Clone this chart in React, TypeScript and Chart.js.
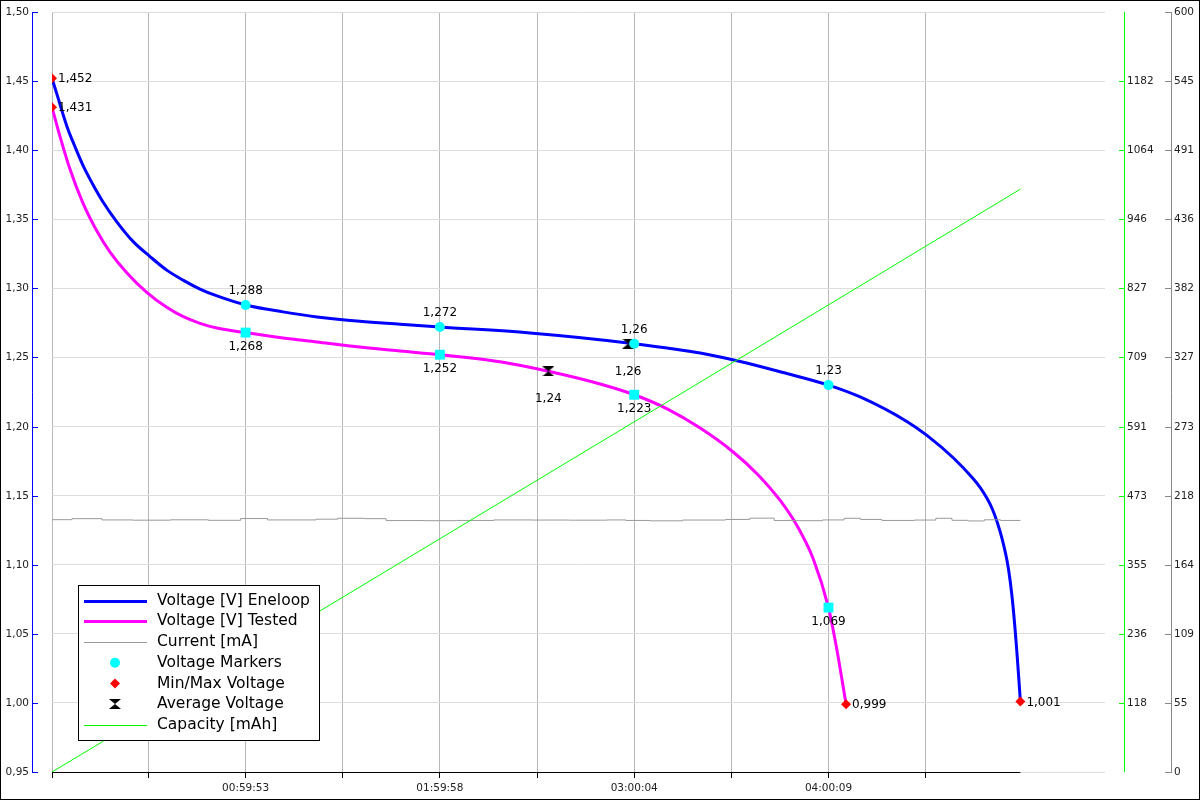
import React, { useEffect, useRef } from 'react';
import { Chart, registerables } from 'chart.js';

Chart.register(...registerables);

// ---------- data ----------
const X_MAX = 19540;
const X_TICKS = [0, 1797, 3593, 5396, 7198, 9001, 10804, 12607, 14409, 16212];
const X_TICK_LABELS = ['', '', '00:59:53', '', '01:59:58', '', '03:00:04', '', '04:00:09', ''];

const V_TICKS = [0.95, 1.0, 1.05, 1.1, 1.15, 1.2, 1.25, 1.3, 1.35, 1.4, 1.45, 1.5];
const V_TICK_LABELS = ['0,95', '1,00', '1,05', '1,10', '1,15', '1,20', '1,25', '1,30', '1,35', '1,40', '1,45', '1,50'];

const CAP_MAX = 1300;
const CAP_TICKS = [118.18, 236.36, 354.55, 472.73, 590.91, 709.09, 827.27, 945.45, 1063.64, 1181.82];
const CAP_TICK_LABELS = ['118', '236', '355', '473', '591', '709', '827', '946', '1064', '1182'];

const CUR_MAX = 600;
const CUR_TICKS = [0, 54.55, 109.09, 163.64, 218.18, 272.73, 327.27, 381.82, 436.36, 490.91, 545.45, 600];
const CUR_TICK_LABELS = ['0', '55', '109', '164', '218', '273', '327', '382', '436', '491', '545', '600'];

const ENELOOP_T = [0, 111, 204, 297, 390, 575, 761, 947, 1206, 1503, 1819, 2135, 2431, 2747, 3062, 3593, 4288, 4919, 5531, 6459, 7198, 8872, 10804, 11415, 12028, 12770, 13568, 14409, 14997, 15870, 16241, 16723, 17095, 17225, 17355, 17447, 17540, 17633, 17726, 17781, 17837, 17911, 17970];
const ENELOOP_V = [1.452, 1.438, 1.426, 1.415, 1.406, 1.389, 1.375, 1.3625, 1.348, 1.334, 1.323, 1.313, 1.306, 1.2995, 1.2945, 1.288, 1.283, 1.2793, 1.2767, 1.274, 1.272, 1.2677, 1.26, 1.2568, 1.2532, 1.2471, 1.2391, 1.23, 1.2214, 1.2035, 1.1934, 1.1774, 1.1622, 1.1558, 1.1477, 1.1405, 1.1307, 1.1184, 1.1021, 1.088, 1.0685, 1.0337, 1.001];

const TESTED_T = [0, 148, 334, 581, 830, 1077, 1387, 1758, 2129, 2437, 2747, 3057, 3593, 4288, 4919, 5531, 6459, 7198, 8315, 9210, 10171, 10804, 11415, 12028, 12640, 13086, 13512, 13828, 14125, 14409, 14496, 14589, 14735];
const TESTED_V = [1.431, 1.41, 1.3862, 1.3611, 1.3417, 1.3263, 1.3113, 1.2971, 1.2863, 1.2795, 1.2747, 1.2713, 1.268, 1.2641, 1.2612, 1.2583, 1.2547, 1.252, 1.2469, 1.24, 1.2308, 1.223, 1.2128, 1.1989, 1.1816, 1.1657, 1.1465, 1.128, 1.1043, 1.069, 1.0528, 1.0332, 0.999];

const CURRENT_T = [0, 370, 930, 1500, 2200, 2900, 3500, 4000, 4900, 5300, 5800, 6200, 6900, 7500, 8200, 8900, 9600, 10300, 10650, 11100, 11700, 12500, 12950, 13400, 13850, 14300, 14700, 15000, 15400, 16000, 16400, 16700, 17000, 17300, 17600, 17970];
const CURRENT_MA = [199.2, 200.0, 199.0, 198.8, 199.1, 198.7, 200.1, 199.0, 199.6, 200.3, 200.0, 198.5, 198.4, 198.6, 199.0, 198.9, 198.8, 199.0, 198.6, 198.3, 198.9, 199.4, 200.4, 198.5, 198.4, 199.0, 200.3, 199.4, 198.6, 198.9, 200.3, 198.7, 198.2, 199.1, 198.6, 198.7];

const CAPACITY_T = [0, 3593, 7198, 10804, 14409, 17970];
const CAPACITY_MAH = [0, 199, 399, 599, 799, 997];

const MARKER_T = [3593, 7198, 10804, 14409];
const ENELOOP_MARKER_V = [1.288, 1.272, 1.26, 1.23];
const TESTED_MARKER_V = [1.268, 1.252, 1.223, 1.069];

const MINMAX_T = [0, 17970, 0, 14735];
const MINMAX_V = [1.452, 1.001, 1.431, 0.999];

const AVG_T = [10691, 9210];
const AVG_V = [1.26, 1.24];

const FONT = '"DejaVu Sans", sans-serif';

const fmt = (v: number) => String(v).replace('.', ',');

function makeHourglass(): HTMLCanvasElement {
  const c = document.createElement('canvas');
  c.width = 12;
  c.height = 10;
  const g = c.getContext('2d')!;
  g.fillStyle = '#000';
  g.beginPath();
  g.moveTo(0, 0);
  g.lineTo(12, 0);
  g.lineTo(6, 5);
  g.closePath();
  g.fill();
  g.beginPath();
  g.moveTo(0, 10);
  g.lineTo(12, 10);
  g.lineTo(6, 5);
  g.closePath();
  g.fill();
  return c;
}

const pts = (ts: number[], vs: number[]) => ts.map((t, i) => ({ x: t, y: vs[i] }));

export default function App() {
  const ref = useRef<HTMLCanvasElement | null>(null);

  useEffect(() => {
    if (!ref.current) return;
    const hourglass = makeHourglass();

    const decor = {
      id: 'decor',
      afterDraw(chart: any) {
        const ctx = chart.ctx as CanvasRenderingContext2D;
        const xs = chart.scales.x;
        const yv = chart.scales.y;
        const yc = chart.scales.yCap;
        const yi = chart.scales.yCur;
        const ca = chart.chartArea;
        ctx.save();

        // x axis black line up to last data point
        ctx.strokeStyle = '#000';
        ctx.lineWidth = 1;
        ctx.beginPath();
        ctx.moveTo(ca.left, Math.round(ca.bottom) + 0.5);
        ctx.lineTo(xs.getPixelForValue(ENELOOP_T[ENELOOP_T.length - 1]), Math.round(ca.bottom) + 0.5);
        ctx.stroke();

        // left voltage axis
        const yTop = yv.getPixelForValue(V_TICKS[V_TICKS.length - 1]);
        const yBot = yv.getPixelForValue(V_TICKS[0]);
        ctx.strokeStyle = '#0000ff';
        ctx.beginPath();
        ctx.moveTo(32.5, yTop);
        ctx.lineTo(32.5, yBot + 0.5);
        ctx.stroke();
        ctx.font = '10.5px ' + FONT;
        ctx.fillStyle = '#222';
        ctx.textAlign = 'right';
        ctx.textBaseline = 'middle';
        V_TICKS.forEach((v, i) => {
          const py = Math.round(yv.getPixelForValue(v)) + 0.5;
          ctx.beginPath();
          ctx.moveTo(32, py);
          ctx.lineTo(38, py);
          ctx.stroke();
          ctx.fillText(V_TICK_LABELS[i], 29, py);
        });

        // capacity axis (green)
        ctx.strokeStyle = '#00ff00';
        ctx.beginPath();
        ctx.moveTo(1124.5, yc.getPixelForValue(CAP_MAX));
        ctx.lineTo(1124.5, yc.getPixelForValue(0));
        ctx.stroke();
        ctx.textAlign = 'left';
        CAP_TICKS.forEach((v, i) => {
          const py = Math.round(yc.getPixelForValue(v)) + 0.5;
          ctx.beginPath();
          ctx.moveTo(1119, py);
          ctx.lineTo(1125, py);
          ctx.stroke();
          ctx.fillText(CAP_TICK_LABELS[i], 1127, py);
        });

        // current axis (gray)
        ctx.strokeStyle = '#888';
        ctx.beginPath();
        ctx.moveTo(1171.5, yi.getPixelForValue(CUR_MAX));
        ctx.lineTo(1171.5, yi.getPixelForValue(0) + 0.5);
        ctx.stroke();
        CUR_TICKS.forEach((v, i) => {
          const py = Math.round(yi.getPixelForValue(v)) + 0.5;
          ctx.beginPath();
          ctx.moveTo(1165, py);
          ctx.lineTo(1172, py);
          ctx.stroke();
          ctx.fillText(CUR_TICK_LABELS[i], 1174, py);
        });

        // data labels
        ctx.font = '12px ' + FONT;
        ctx.fillStyle = '#000';
        chart.data.datasets.forEach((ds: any, di: number) => {
          if (!ds.labelPos) return;
          const meta = chart.getDatasetMeta(di);
          meta.data.forEach((el: any, j: number) => {
            const v = ds.data[j].y;
            const txt = fmt(v);
            if (ds.labelPos === 'above') {
              ctx.textAlign = 'center';
              ctx.fillText(txt, el.x, el.y - 14);
            } else if (ds.labelPos === 'below') {
              ctx.textAlign = 'center';
              ctx.fillText(txt, el.x, el.y + 14);
            } else if (ds.labelPos === 'below2') {
              ctx.textAlign = 'center';
              ctx.fillText(txt, el.x, el.y + 28);
            } else {
              ctx.textAlign = 'left';
              ctx.fillText(txt, el.x + 6, el.y + 1);
            }
          });
        });

        // legend
        const lx = 78.5, ly = 585.5, lw = 241, lh = 155;
        ctx.fillStyle = '#fff';
        ctx.fillRect(lx, ly, lw, lh);
        ctx.strokeStyle = '#000';
        ctx.lineWidth = 1;
        ctx.strokeRect(lx, ly, lw, lh);
        const items = [
          { label: 'Voltage [V] Eneloop', kind: 'line', color: '#0000ff', width: 3 },
          { label: 'Voltage [V] Tested', kind: 'line', color: '#ff00ff', width: 3 },
          { label: 'Current [mA]', kind: 'line', color: '#999999', width: 1 },
          { label: 'Voltage Markers', kind: 'circle', color: '#00ffff', width: 0 },
          { label: 'Min/Max Voltage', kind: 'diamond', color: '#ff0000', width: 0 },
          { label: 'Average Voltage', kind: 'hourglass', color: '#000', width: 0 },
          { label: 'Capacity [mAh]', kind: 'line', color: '#00ff00', width: 1 },
        ];
        ctx.font = '15.5px ' + FONT;
        ctx.textAlign = 'left';
        ctx.textBaseline = 'middle';
        items.forEach((it, i) => {
          const cy = 600.7 + i * 20.7;
          if (it.kind === 'line') {
            ctx.strokeStyle = it.color;
            ctx.lineWidth = it.width;
            ctx.beginPath();
            const yy = it.width % 2 === 1 ? Math.round(cy) + 0.5 : Math.round(cy);
            ctx.moveTo(84, yy);
            ctx.lineTo(147, yy);
            ctx.stroke();
          } else if (it.kind === 'circle') {
            ctx.fillStyle = it.color;
            ctx.beginPath();
            ctx.arc(115, cy, 5, 0, Math.PI * 2);
            ctx.fill();
          } else if (it.kind === 'diamond') {
            ctx.fillStyle = it.color;
            ctx.beginPath();
            ctx.moveTo(115, cy - 5);
            ctx.lineTo(120, cy);
            ctx.lineTo(115, cy + 5);
            ctx.lineTo(110, cy);
            ctx.closePath();
            ctx.fill();
          } else {
            ctx.drawImage(hourglass, 109, Math.round(cy - 5));
          }
          ctx.fillStyle = '#000';
          ctx.fillText(it.label, 157, cy);
        });

        // outer frame
        ctx.strokeStyle = '#000';
        ctx.lineWidth = 1;
        ctx.strokeRect(0.5, 0.5, chart.width - 1, chart.height - 1);
        ctx.restore();
      },
    };

    const chart = new Chart(ref.current, {
      type: 'line',
      data: {
        datasets: [
          {
            label: 'Voltage Markers Eneloop',
            data: pts(MARKER_T, ENELOOP_MARKER_V),
            showLine: false,
            pointStyle: 'circle',
            pointRadius: 5,
            backgroundColor: '#00ffff',
            borderColor: '#00ffff',
            borderWidth: 0,
            yAxisID: 'y',
            order: 1,
            labelPos: 'above',
          } as any,
          {
            label: 'Voltage Markers Tested',
            data: pts(MARKER_T, TESTED_MARKER_V),
            showLine: false,
            pointStyle: 'rect',
            pointRadius: 7,
            backgroundColor: '#00ffff',
            borderColor: '#00ffff',
            borderWidth: 0,
            yAxisID: 'y',
            order: 1,
            labelPos: 'below',
          } as any,
          {
            label: 'Min/Max Voltage',
            data: pts(MINMAX_T, MINMAX_V),
            showLine: false,
            pointStyle: 'rectRot',
            pointRadius: 5,
            backgroundColor: '#ff0000',
            borderColor: '#ff0000',
            borderWidth: 0,
            yAxisID: 'y',
            order: 0,
            labelPos: 'right',
          } as any,
          {
            label: 'Average Voltage',
            data: pts(AVG_T, AVG_V),
            showLine: false,
            pointStyle: hourglass,
            pointRadius: 6,
            backgroundColor: '#000',
            borderColor: '#000',
            yAxisID: 'y',
            order: 2,
            labelPos: 'below2',
          } as any,
          {
            label: 'Capacity [mAh]',
            data: pts(CAPACITY_T, CAPACITY_MAH),
            borderColor: '#00ff00',
            borderWidth: 1,
            pointRadius: 0,
            yAxisID: 'yCap',
            order: 3,
          },
          {
            label: 'Current [mA]',
            data: pts(CURRENT_T, CURRENT_MA),
            borderColor: '#999999',
            borderWidth: 1,
            pointRadius: 0,
            stepped: true,
            yAxisID: 'yCur',
            order: 4,
          },
          {
            label: 'Voltage [V] Tested',
            data: pts(TESTED_T, TESTED_V),
            borderColor: '#ff00ff',
            borderWidth: 3,
            pointRadius: 0,
            cubicInterpolationMode: 'monotone',
            yAxisID: 'y',
            order: 5,
          },
          {
            label: 'Voltage [V] Eneloop',
            data: pts(ENELOOP_T, ENELOOP_V),
            borderColor: '#0000ff',
            borderWidth: 3,
            pointRadius: 0,
            cubicInterpolationMode: 'monotone',
            yAxisID: 'y',
            order: 6,
          },
        ],
      },
      options: {
        animation: false,
        responsive: false,
        devicePixelRatio: 1,
        layout: { padding: { top: 12, right: 95, left: 0, bottom: 0 } },
        plugins: { legend: { display: false }, tooltip: { enabled: false } },
        events: [],
        scales: {
          x: {
            type: 'linear',
            min: 0,
            max: X_MAX,
            border: { display: false },
            grid: { color: '#b8b8b8', tickColor: '#000', tickLength: 6, drawTicks: true },
            ticks: {
              autoSkip: false,
              maxRotation: 0,
              padding: 4,
              color: '#222',
              font: { family: FONT, size: 10.5 },
              callback: (_v: any, i: number) => X_TICK_LABELS[i] ?? '',
            },
            afterBuildTicks: (s: any) => {
              s.ticks = X_TICKS.map((v) => ({ value: v }));
            },
            afterFit: (s: any) => {
              s.height = 28;
            },
          },
          y: {
            type: 'linear',
            position: 'left',
            min: V_TICKS[0],
            max: V_TICKS[V_TICKS.length - 1],
            border: { display: false },
            grid: { color: '#dcdcdc', drawTicks: false },
            ticks: { display: false },
            afterBuildTicks: (s: any) => {
              s.ticks = V_TICKS.map((v) => ({ value: v }));
            },
            afterFit: (s: any) => {
              s.width = 52;
            },
          },
          yCap: {
            type: 'linear',
            position: 'right',
            display: false,
            min: 0,
            max: CAP_MAX,
          },
          yCur: {
            type: 'linear',
            position: 'right',
            display: false,
            min: 0,
            max: CUR_MAX,
          },
        },
      } as any,
      plugins: [decor],
    });

    return () => chart.destroy();
  }, []);

  return (
    <div style={{ position: 'fixed', left: 0, top: 0, width: 1200, height: 800, background: '#fff' }}>
      <canvas ref={ref} width={1200} height={800} style={{ display: 'block' }} />
    </div>
  );
}
